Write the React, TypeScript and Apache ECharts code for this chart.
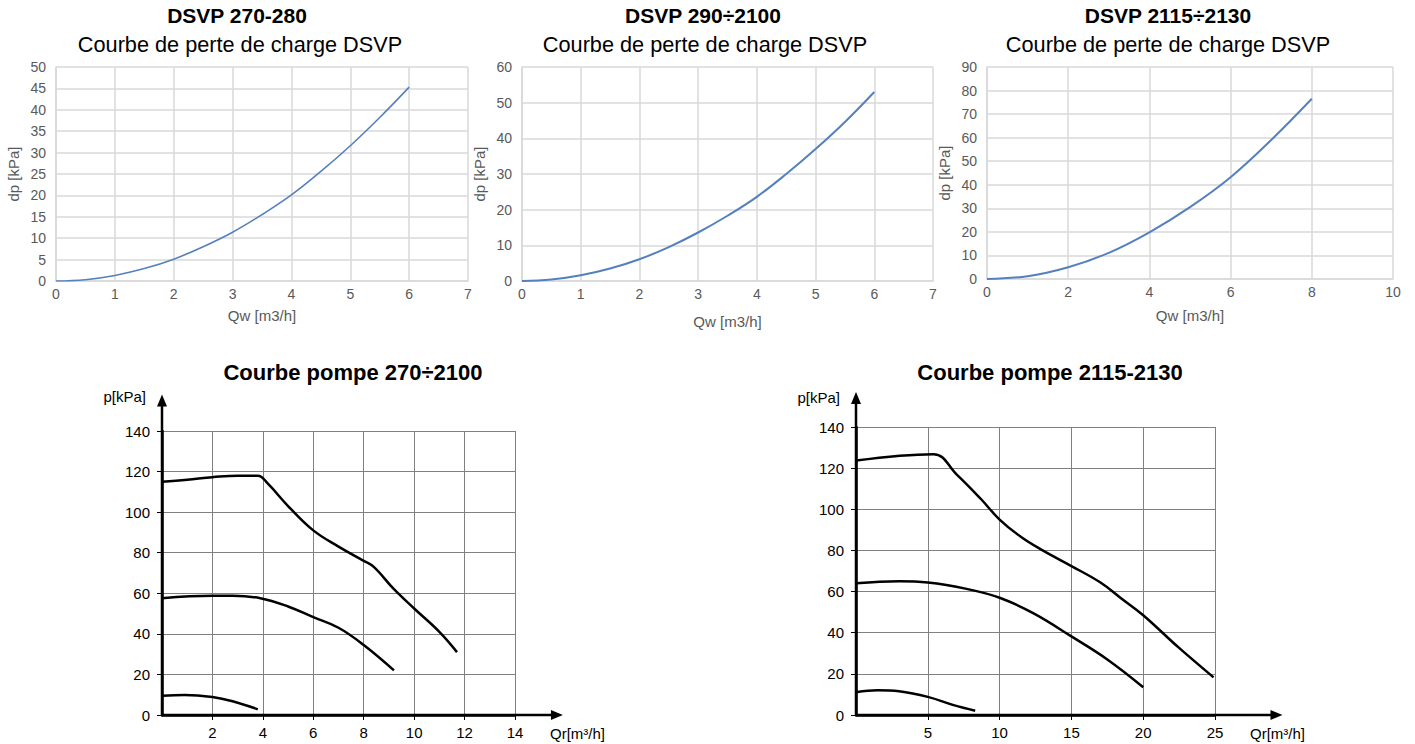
import React, { useEffect, useRef } from "react";
import * as echarts from "echarts";

// ---- Data ----
const dsvp1Q = [0, 0.5, 1, 1.5, 2, 2.5, 3, 3.5, 4, 4.5, 5, 5.5, 6];
const dsvp1Dp = [0, 0.3, 1.3, 2.9, 5.1, 8.0, 11.4, 15.5, 20.1, 25.6, 31.6, 38.2, 45.3];

const dsvp2Q = [0, 0.5, 1, 1.5, 2, 2.5, 3, 3.5, 4, 4.5, 5, 5.5, 6];
const dsvp2Dp = [0, 0.4, 1.6, 3.5, 6.1, 9.5, 13.6, 18.3, 23.6, 30.0, 37.0, 44.6, 53.0];

const dsvp3Q = [0, 1, 2, 3, 4, 5, 6, 7, 8];
const dsvp3Dp = [0, 1.2, 5.0, 11.1, 19.8, 30.5, 43.2, 59.0, 76.5];

const pumpA_highQ = [0, 1, 2, 3, 3.8, 4.2, 5, 6, 7, 8, 8.4, 9.2, 10, 11, 11.7];
const pumpA_highP = [115, 116, 117.2, 118, 118, 114, 103, 91, 83, 76, 73, 62, 52.5, 41, 31];
const pumpA_midQ = [0, 2, 2.8, 3.9, 5, 6, 7, 8, 9.2];
const pumpA_midP = [57.6, 58.8, 58.8, 57.6, 53.5, 48.2, 43, 34.5, 22];
const pumpA_lowQ = [0, 0.9, 2, 2.8, 3.8];
const pumpA_lowP = [9.5, 9.9, 8.9, 6.8, 2.8];

const pumpB_highQ = [0, 5.4, 7, 8.7, 10, 11.5, 13, 15, 17, 18.5, 20, 22.5, 24.9];
const pumpB_highP = [123.7, 126.8, 117, 105, 95, 86.5, 80, 72.4, 64.5, 56.5, 48.5, 32.6, 18.3];
const pumpB_midQ = [0, 3, 5, 7.7, 10, 12.4, 15, 17.5, 20];
const pumpB_midP = [64, 65, 64.4, 61.3, 57, 49.3, 38.2, 27, 13.5];
const pumpB_lowQ = [0, 1.5, 3, 5, 6.8, 8.3];
const pumpB_lowP = [11.1, 12, 11.5, 8.8, 4.8, 2.1];

const topTitles = ["DSVP 270-280", "DSVP 290÷2100", "DSVP 2115÷2130"];
const topSubtitle = "Courbe de perte de charge DSVP";
const pumpTitles = ["Courbe pompe 270÷2100", "Courbe pompe 2115-2130"];

const FONT = '"Liberation Sans", Arial, Helvetica, sans-serif';

const pairs = (xs: number[], ys: number[]) => xs.map((x, i) => [x, ys[i]]);

export default function App() {
  const ref = useRef<HTMLDivElement>(null);

  useEffect(() => {
    if (!ref.current) return;
    const chart = echarts.init(ref.current, null, { renderer: "svg" });

    const excelX = (gi: number, max: number, interval: number, gap: number) => ({
      gridIndex: gi,
      type: "value",
      min: 0,
      max,
      interval,
      axisLine: { show: true, lineStyle: { color: "#d9d9d9", width: 1.5 } },
      axisTick: { show: false },
      axisLabel: { color: "#595959", fontSize: 14, margin: 6, fontFamily: FONT },
      splitLine: { show: true, lineStyle: { color: "#d9d9d9", width: 1.5 } },
      name: "Qw [m3/h]",
      nameLocation: "middle",
      nameGap: gap,
      nameTextStyle: { color: "#595959", fontSize: 15, fontFamily: FONT },
    });
    const excelY = (gi: number, max: number, interval: number) => ({
      gridIndex: gi,
      type: "value",
      min: 0,
      max,
      interval,
      axisLine: { show: true, lineStyle: { color: "#d9d9d9", width: 1.5 } },
      axisTick: { show: false },
      axisLabel: { color: "#595959", fontSize: 14, margin: 10, fontFamily: FONT },
      splitLine: { show: true, lineStyle: { color: "#d9d9d9", width: 1.5 } },
      name: "dp [kPa]",
      nameLocation: "middle",
      nameGap: 35,
      nameTextStyle: { color: "#595959", fontSize: 15, fontFamily: FONT },
    });
    const pumpX = (gi: number, max: number, interval: number) => ({
      gridIndex: gi,
      type: "value",
      min: 0,
      max,
      interval,
      axisLine: { show: true, onZero: false, lineStyle: { color: "#000", width: 2.5 } },
      axisTick: { show: true, length: 5, lineStyle: { color: "#000", width: 1 } },
      axisLabel: { color: "#000", fontSize: 15, margin: 10, showMinLabel: false, fontFamily: FONT },
      splitLine: { show: true, lineStyle: { color: "#808080", width: 1 } },
      name: "Qr[m³/h]",
      nameLocation: "end",
      nameGap: 35,
      nameTextStyle: { color: "#000", fontSize: 15, verticalAlign: "top", lineHeight: 36, fontFamily: FONT },
    });
    const pumpY = (gi: number, gap: number) => ({
      gridIndex: gi,
      type: "value",
      min: 0,
      max: 140,
      interval: 20,
      axisLine: { show: true, onZero: false, lineStyle: { color: "#000", width: 2.5 } },
      axisTick: { show: true, length: 5, lineStyle: { color: "#000", width: 1 } },
      axisLabel: { color: "#000", fontSize: 15, margin: 12, fontFamily: FONT },
      splitLine: { show: true, lineStyle: { color: "#808080", width: 1 } },
      name: "p[kPa]",
      nameLocation: "end",
      nameGap: gap,
      nameTextStyle: { color: "#000", fontSize: 15, align: "right", verticalAlign: "middle", padding: [0, 16, 0, 0], fontFamily: FONT },
    });

    const blueLine = (xi: number, q: number[], dp: number[], w: number) => ({
      type: "line",
      xAxisIndex: xi,
      yAxisIndex: xi,
      data: pairs(q, dp),
      smooth: 0.4,
      showSymbol: false,
      lineStyle: { color: "#5580be", width: w },
      itemStyle: { color: "#5580be" },
    });
    const blackLine = (xi: number, q: number[], p: number[]) => ({
      type: "line",
      xAxisIndex: xi,
      yAxisIndex: xi,
      data: pairs(q, p),
      smooth: 0.4,
      showSymbol: false,
      lineStyle: { color: "#000", width: 2.5 },
      itemStyle: { color: "#000" },
    });

    const titleText = (x: number, y: number, text: string, bold: boolean, size: number) => ({
      type: "text",
      x,
      y,
      style: {
        text,
        fill: "#000",
        fontSize: size,
        fontWeight: bold ? "bold" : "normal",
        fontFamily: FONT,
        align: "center",
        verticalAlign: "top",
      },
    });

    const g = (left: number, top: number, width: number, height: number) => ({
      left, top, width, height, outerBoundsMode: "none", containLabel: false,
    });

    const baseOption: any = {
      animation: false,
      textStyle: { fontFamily: FONT },
      grid: [
        g(56, 67, 412, 214),
        g(522, 67, 411, 214),
        g(987, 67, 406, 212),
        g(162, 431, 353, 284),
        g(856, 427, 359, 288),
      ],
      xAxis: [
        excelX(0, 7, 1, 27),
        excelX(1, 7, 1, 33),
        excelX(2, 10, 2, 29),
        pumpX(3, 14, 2),
        pumpX(4, 25, 5),
      ],
      yAxis: [
        excelY(0, 50, 5),
        excelY(1, 60, 10),
        excelY(2, 90, 10),
        pumpY(3, 35),
        pumpY(4, 30),
      ],
      series: [
        blueLine(0, dsvp1Q, dsvp1Dp, 1.6),
        blueLine(1, dsvp2Q, dsvp2Dp, 2),
        blueLine(2, dsvp3Q, dsvp3Dp, 2),
        blackLine(3, pumpA_highQ, pumpA_highP),
        blackLine(3, pumpA_midQ, pumpA_midP),
        blackLine(3, pumpA_lowQ, pumpA_lowP),
        blackLine(4, pumpB_highQ, pumpB_highP),
        blackLine(4, pumpB_midQ, pumpB_midP),
        blackLine(4, pumpB_lowQ, pumpB_lowP),
      ],
    };
    chart.setOption(baseOption);

    const arrows = (gi: number, xTip: number, yTip: number) => {
      const o = chart.convertToPixel({ gridIndex: gi } as any, [0, 0]) as number[];
      const xe = chart.convertToPixel({ gridIndex: gi } as any, [xTip, 0]) as number[];
      const ye = chart.convertToPixel({ gridIndex: gi } as any, [0, yTip]) as number[];
      return [
        { type: "line", shape: { x1: o[0], y1: o[1], x2: xe[0] - 8, y2: o[1] }, style: { stroke: "#000", lineWidth: 2.5 } },
        { type: "polygon", shape: { points: [[xe[0], o[1]], [xe[0] - 12, o[1] - 5], [xe[0] - 12, o[1] + 5]] }, style: { fill: "#000" } },
        { type: "line", shape: { x1: o[0], y1: o[1], x2: o[0], y2: ye[1] + 8 }, style: { stroke: "#000", lineWidth: 2.5 } },
        { type: "polygon", shape: { points: [[o[0], ye[1]], [o[0] - 5, ye[1] + 12], [o[0] + 5, ye[1] + 12]] }, style: { fill: "#000" } },
      ];
    };

    chart.setOption({
      graphic: [
        titleText(237, 5, topTitles[0], true, 21),
        titleText(240, 33, topSubtitle, false, 21.7),
        titleText(703, 5, topTitles[1], true, 21),
        titleText(705, 33, topSubtitle, false, 21.7),
        titleText(1168, 5, topTitles[2], true, 21),
        titleText(1168, 33, topSubtitle, false, 21.7),
        titleText(353, 361, pumpTitles[0], true, 22),
        titleText(1050, 361, pumpTitles[1], true, 22),
        ...arrows(3, 15.9, 158),
        ...arrows(4, 29.7, 157),
      ],
    });

    return () => chart.dispose();
  }, []);

  return (
    <div
      ref={ref}
      style={{ position: "fixed", left: 0, top: 0, width: 1415, height: 744, background: "#fff" }}
    />
  );
}
